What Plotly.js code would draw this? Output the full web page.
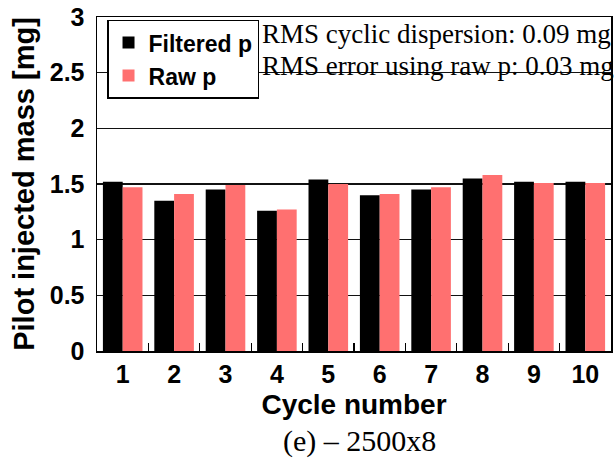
<!DOCTYPE html>
<html>
<head>
<meta charset="utf-8">
<script src="https://cdn.plot.ly/plotly-3.0.1.min.js"></script>
<style>
  html, body { margin: 0; padding: 0; background: #ffffff; }
  #chart { width: 616px; height: 459px; }
</style>
</head>
<body>
<div id="chart"></div>
<script>
// Pilot injected mass per cycle, filtered vs raw pressure
const cycles = ['1', '2', '3', '4', '5', '6', '7', '8', '9', '10'];
const filteredP = [1.52, 1.35, 1.45, 1.26, 1.54, 1.40, 1.45, 1.55, 1.52, 1.52];
const rawP = [1.47, 1.41, 1.49, 1.27, 1.50, 1.41, 1.47, 1.58, 1.51, 1.51];
const seriesNames = ['Filtered p', 'Raw p'];
const notes = ['RMS cyclic dispersion: 0.09 mg', 'RMS error using raw p: 0.03 mg'];
const caption = '(e) \u2013 2500x8';

const sans = 'Liberation Sans, Arial, sans-serif';
const serif = 'Liberation Serif, Times New Roman, serif';

const traces = [
  {
    type: 'bar', name: seriesNames[0], x: cycles, y: filteredP,
    marker: { color: '#000000', line: { width: 0 } }
  },
  {
    type: 'bar', name: seriesNames[1], x: cycles, y: rawP,
    marker: { color: '#ff7070', line: { width: 0 } }
  }
];

const layout = {
  width: 616, height: 459,
  margin: { l: 97, r: 5, t: 17, b: 108 },
  paper_bgcolor: '#ffffff', plot_bgcolor: '#ffffff',
  barmode: 'group', bargap: 0.23, bargroupgap: 0,
  font: { family: sans, color: '#000000' },
  xaxis: {
    type: 'category',
    tickson: 'boundaries', ticks: 'inside', ticklen: 8, tickwidth: 1.2, tickcolor: '#000000',
    showline: true, mirror: true, linecolor: '#000000', linewidth: 1.5,
    showgrid: false, zeroline: false,
    tickfont: { family: sans, size: 25, weight: 'bold', color: '#000000' },
    ticklabelstandoff: 0,
    title: { text: 'Cycle number', font: { family: sans, size: 28, weight: 'bold', color: '#000000' }, standoff: 8 }
  },
  yaxis: {
    range: [0, 3], dtick: 0.5, tick0: 0,
    showline: true, mirror: true, linecolor: '#000000', linewidth: 1.5,
    showgrid: true, gridcolor: '#111111', gridwidth: 1.2, zeroline: false,
    ticks: '',
    tickfont: { family: sans, size: 25, weight: 'bold', color: '#000000' },
    ticklabelstandoff: 6,
    title: { text: 'Pilot injected mass [mg]', font: { family: sans, size: 29, weight: 'bold', color: '#000000' }, standoff: 6 }
  },
  legend: {
    x: 0.0195, y: 0.992, xanchor: 'left', yanchor: 'top',
    bgcolor: '#ffffff', bordercolor: '#000000', borderwidth: 1.5,
    font: { family: sans, size: 23, weight: 'bold', color: '#000000' },
    tracegroupgap: 0
  },
  annotations: [
    {
      xref: 'paper', yref: 'paper', x: 0.317, y: 0.949, xanchor: 'left', yanchor: 'middle',
      text: notes[0], showarrow: false,
      font: { family: serif, size: 27, color: '#000000' }
    },
    {
      xref: 'paper', yref: 'paper', x: 0.317, y: 0.853, xanchor: 'left', yanchor: 'middle',
      text: notes[1], showarrow: false,
      font: { family: serif, size: 27, color: '#000000' }
    },
    {
      xref: 'paper', yref: 'paper', x: 0.51, y: -0.269, xanchor: 'center', yanchor: 'middle',
      text: caption, showarrow: false,
      font: { family: serif, size: 30, color: '#000000' }
    }
  ]
};

Plotly.newPlot('chart', traces, layout, { displayModeBar: false, staticPlot: true });
</script>
</body>
</html>
